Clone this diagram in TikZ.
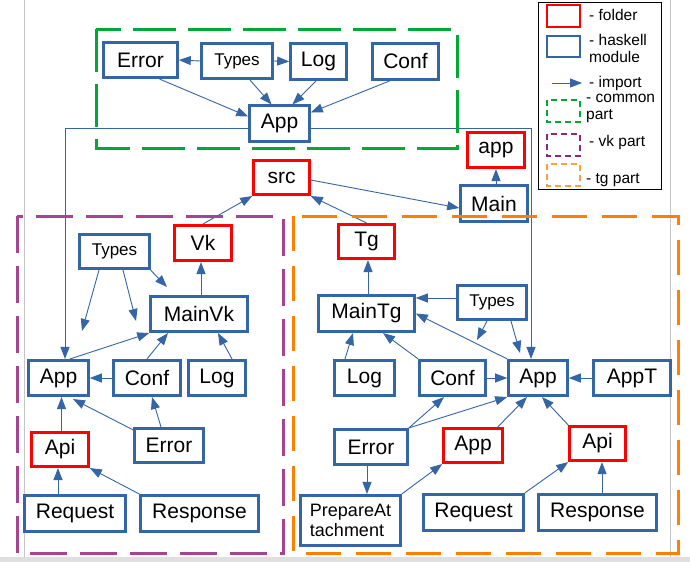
\documentclass[tikz,border=0pt]{standalone}
\usepackage{fontspec}
\setmainfont{Liberation Sans}
\usetikzlibrary{arrows.meta}
\definecolor{module edge}{HTML}{3465A4}
\definecolor{folder edge}{HTML}{FF0000}
\definecolor{common edge}{HTML}{00A933}
\definecolor{vk edge}{HTML}{A4458D}
\definecolor{tg edge}{HTML}{FF8000}
\definecolor{vk key}{HTML}{8B2A7D}
\definecolor{tg key}{HTML}{FFA040}
\def\commonpart{(96,29) rectangle (457,148)}
\def\vkpart{(17,216) rectangle (283,553)}
\def\tgpart{(293,216) rectangle (678,553)}
\tikzset{module/.style={draw=module edge, line width=2.6pt, inner sep=0pt,
      minimum height=35.5pt, font=\fontsize{21}{24}\selectfont},
    folder/.style={module, draw=folder edge},
    smalltext/.style={font=\fontsize{17}{20}\selectfont},
    import/.style={draw=module edge, line width=0.9pt,
      -{Triangle[length=12pt,width=9pt]}},
    part/.style={line width=3pt},
    keybox/.style={line width=2.5pt},
    keytext/.style={anchor=west, inner sep=0pt, align=left,
      font=\fontsize{15.5}{17}\selectfont}}

\begin{document}
\begin{tikzpicture}[x=1pt,y=-1pt]
    \fill[white] (0,0) rectangle (690,562);
    \useasboundingbox (0,0) rectangle (690,562);
    \draw[gray!45, line width=0.8pt] (24,0) -- (24,557);
    \draw[gray!45, line width=0.8pt] (670,0) -- (670,557);
    \fill[gray!25] (0,557) rectangle (690,562);

    % common part
    \node[module, minimum width=74pt] (cError) at (140.5,60) {Error};
    \node[module, smalltext, minimum width=71pt] (cTypes) at (237,61) {Types};
    \node[module, minimum width=56pt] (cLog) at (318.5,61.5) {Log};
    \node[module, minimum width=66pt] (cConf) at (405.5,61.5) {Conf};
    \node[module, minimum width=60pt] (cApp) at (279.5,123.5) {App};
    \node[folder, minimum width=56pt, minimum height=34.5pt] (src) at (281.5,177.5) {src};
    \node[folder, minimum width=57pt] (app) at (496,150) {app};
    \node[module, minimum width=67pt] (main) at (494,203.5) {Main};

    % vk part
    \node[module, smalltext, minimum width=70pt, minimum height=34.5pt] (vTypes) at (114.5,251.5) {Types};
    \node[folder, minimum width=57pt] (vk) at (203,243) {Vk};
    \node[module, minimum width=97pt] (vMain) at (199,314) {MainVk};
    \node[module, minimum width=60pt] (vApp) at (58.5,378) {App};
    \node[module, minimum width=67pt] (vConf) at (147,378) {Conf};
    \node[module, minimum width=57pt] (vLog) at (217,378) {Log};
    \node[module, minimum width=69pt, minimum height=34.5pt] (vError) at (169,445.5) {Error};
    \node[folder, minimum width=57pt, minimum height=34.5pt] (vApi) at (60,449.5) {Api};
    \node[module, minimum width=101pt, minimum height=36.5pt] (vRequest) at (75,513.5) {Request};
    \node[module, minimum width=118pt, minimum height=36.5pt] (vResponse) at (199.5,513.5) {Response};

    % tg part
    \node[folder, minimum width=56pt, minimum height=34.5pt] (tg) at (366.5,241.5) {Tg};
    \node[module, minimum width=96pt, minimum height=36.5pt] (tMain) at (366.5,313.5) {MainTg};
    \node[module, smalltext, minimum width=69pt, minimum height=34.5pt] (tTypes) at (492,302.5) {Types};
    \node[module, minimum width=60pt] (tLog) at (364.5,378) {Log};
    \node[module, minimum width=66pt] (tConf) at (452.5,378) {Conf};
    \node[module, minimum width=59pt] (tApp) at (538,378) {App};
    \node[module, minimum width=77pt] (tAppT) at (632,378) {AppT};
    \node[module, minimum width=73pt] (tError) at (371,447) {Error};
    \node[folder, minimum width=59pt, minimum height=34.5pt] (tAppDir) at (473,445.5) {App};
    \node[folder, minimum width=56pt, minimum height=34.5pt] (tApi) at (597.5,443.5) {Api};
    \node[module, minimum width=100pt, minimum height=50.5pt, align=left,
      font=\fontsize{18}{19.5}\selectfont] (tPrep) at (350.5,520.5) {PrepareAt\\tachment};
    \node[module, minimum width=100pt, minimum height=36.5pt] (tRequest) at (473.5,512.5) {Request};
    \node[module, minimum width=118pt, minimum height=36.5pt] (tResponse) at (597.5,512.5) {Response};

    \draw[import] (cTypes.west) -- (cError.east);
    \draw[import] (cTypes.east) -- (cLog.west);
    \draw[import] ([xshift=19pt]cError.south) -- ([yshift=7pt]cApp.west);
    \draw[import] ([xshift=13pt]cTypes.south) -- ([xshift=-8pt]cApp.north);
    \draw[import] ([xshift=-2pt]cLog.south) -- ([xshift=13pt]cApp.north);
    \draw[import] ([xshift=-15pt]cConf.south) -- ([yshift=11pt]cApp.east);
    \draw[import] ([yshift=-4.5pt]cApp.west) -| ([xshift=6.5pt]vApp.north);
    \draw[import] ([yshift=-4.5pt]cApp.east) -| ([xshift=-7pt]tApp.north);
    \draw[import] ([xshift=2pt]main.north) -- (app.south);
    \draw[import] ([yshift=-2.5pt]src.east) -- ([yshift=-4.5pt]main.west);
    \draw[import] (tg.north) -- (src.south east);
    \draw[import] (vk.north) -- (src.south west);

    \draw[import] ([xshift=2pt]vMain.north) -- ([xshift=-2pt]vk.south);
    \draw[import] ([xshift=36pt]vTypes.south) -- ([xshift=-32pt,yshift=8pt]vMain.north);
    \draw[import] ([xshift=-15.5pt]vTypes.south) -- ([xshift=23.5pt,yshift=28pt]vApp.north);
    \draw[import] ([xshift=8.5pt]vTypes.south) -- ([xshift=-11pt,yshift=38pt]vConf.north);
    \draw[import] ([xshift=11.5pt]vApp.north) -- (vMain.south west);
    \draw[import] (vConf.north) -- ([xshift=-31pt]vMain.south);
    \draw[import] ([xshift=15pt]vLog.north) -- ([xshift=19pt]vMain.south);
    \draw[import] (vConf.west) -- (vApp.east);
    \draw[import] ([yshift=-3pt]vError.north west) -- ([xshift=14.5pt,yshift=-2pt]vApp.south);
    \draw[import] ([xshift=-8pt]vError.north) -- ([xshift=5pt]vConf.south);
    \draw[import] ([xshift=1.5pt]vApi.north) -- ([xshift=3pt]vApp.south);
    \draw[import] ([xshift=-17pt]vRequest.north) -- ([xshift=-2pt]vApi.south);
    \draw[import] (vResponse.north west) -- (vApi.south east);

    \draw[import] ([xshift=1.5pt]tMain.north) -- ([xshift=1.5pt]tg.south);
    \draw[import] ([yshift=4.5pt]tTypes.west) -- ([yshift=15.5pt]tMain.east);
    \draw[import] ([xshift=-5pt]tTypes.south) -- ([xshift=24.5pt,yshift=19pt]tConf.north);
    \draw[import] ([xshift=19pt]tTypes.south) -- ([xshift=-18pt,yshift=6pt]tApp.north);
    \draw[import] (tApp.north west) -- (tMain.east);
    \draw[import] ([xshift=-19.5pt]tLog.north) -- ([xshift=-13.5pt]tMain.south);
    \draw[import] (tConf.north west) -- ([xshift=16.5pt]tMain.south);
    \draw[import] (tConf.east) -- (tApp.west);
    \draw[import] (tAppT.west) -- (tApp.east);
    \draw[import] (tError.north east) -- ([xshift=-8.5pt]tConf.south);
    \draw[import] (tError.north east) -- (tApp.south west);
    \draw[import] ([xshift=-6pt]tAppDir.north east) -- ([xshift=-11pt]tApp.south);
    \draw[import] (tApi.north west) -- ([xshift=4pt]tApp.south);
    \draw[import] ([xshift=-4pt]tError.south) -- ([xshift=-4pt]tError.south |- tPrep.north);
    \draw[import] (tPrep.north east) -- (tAppDir.south west);
    \draw[import] (tRequest.north east) -- (tApi.south west);
    \draw[import] ([xshift=4.5pt]tResponse.north) -- ([xshift=4.5pt]tApi.south);

    \draw[part, common edge, dash pattern=on 43pt off 12pt] \commonpart;
    \draw[part, vk edge, dash pattern=on 37pt off 13pt] \vkpart;
    \draw[part, tg edge, dash pattern=on 35pt off 15pt] \tgpart;

    % key
    \draw[line width=1pt] (538,2) rectangle (661,189);
    \draw[keybox, folder edge] (547,5) rectangle (580,27);
    \draw[keybox, module edge] (547,36) rectangle (580,57);
    \coordinate (keyFrom) at (552,83);
    \coordinate (keyTo) at (582,83);
    \draw[import] (keyFrom) -- (keyTo);
    \draw[keybox, common edge, dash pattern=on 6pt off 4pt] (547,100) rectangle (580,122);
    \draw[keybox, vk key, dash pattern=on 6pt off 4pt] (547,134) rectangle (580,156);
    \draw[keybox, tg key, dash pattern=on 6pt off 4pt] (547,164) rectangle (580,186);
    \node[keytext] (keyFolder) at (589,15) {- folder};
    \node[keytext] (keyModule) at (589,48.5) {- haskell\\module};
    \node[keytext] (keyImport) at (589,83) {- import};
    \node[keytext] (keyCommon) at (586,108.5) {- common\\part};
    \node[keytext] (keyVk) at (589,142) {- vk part};
    \node[keytext] (keyTg) at (586,180) {- tg part};
\end{tikzpicture}
\end{document}
